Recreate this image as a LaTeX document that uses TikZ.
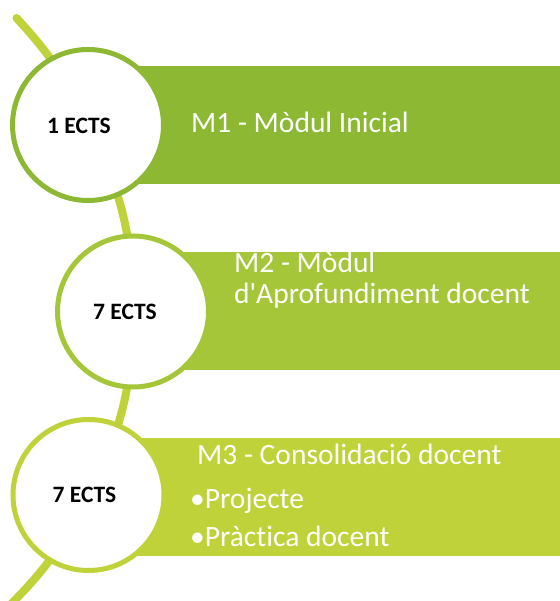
\documentclass[tikz,border=0pt]{standalone}
\usepackage{fontspec}
\setmainfont{Carlito}[Ligatures={TeXOff,NoCommon}]
\definecolor{gone}{RGB}{140,184,52}
\definecolor{gtwo}{RGB}{166,198,57}
\definecolor{gthree}{RGB}{192,210,58}
\begin{document}
\begin{tikzpicture}[x=1pt,y=-1pt,
  band/.style={draw=none, rectangle, anchor=west, minimum width=480, minimum height=118, inner sep=0},
  ring/.style={circle, draw=#1, fill=white, line width=5pt, minimum size=151, inner sep=0},
  ects/.style={font=\bfseries\fontsize{23.5}{26}\selectfont, text=black, inner sep=0},
  label/.style={font=\fontsize{29.5}{31}\selectfont, text=white, anchor=base west, inner sep=0, align=left},
  link/.style={draw=gthree, line width=8pt, line cap=round}]
\useasboundingbox (0,0) rectangle (559,601);
% bands
\node[band, fill=gone] (r1) at (88,125) {};
\node[band, fill=gtwo] (r2) at (133,310.5) {};
\node[band, fill=gthree] (r3) at (88.5,496.5) {};
% connector coordinates
\coordinate (top) at (16.5,18);
\coordinate (bot) at (5,610);
\coordinate (p1) at (88,125);
\coordinate (p2) at (133,311.5);
\coordinate (p3) at (88.5,495);
\path[link] (top) to[bend left=9] (p1);
\path[link] (p1) to[bend left=13.3] (p2);
\path[link] (p2) to[bend left=13.3] (p3);
\path[link] (p3) to[bend left=9.5] (bot);
% circles
\node[ring=gone] (c1) at (p1) {};
\node[ring=gtwo] (c2) at (p2) {};
\node[ring=gthree] (c3) at (p3) {};
% circle texts
\node[ects] (e1) at (79,125.5) {1 ECTS};
\node[ects] (e2) at (125,311.5) {7 ECTS};
\node[ects] (e3) at (84.5,495) {7 ECTS};
% band texts
\node[label] (t1) at (191,133) {M1 - Mòdul Inicial};
\node[label] (t2) at (234,303) {M2 - Mòdul\\d'Aprofundiment docent};
\node[label] (t3) at (197,464) {M3 - Consolidació docent};
\node[label] (t4) at (190,508) {•Projecte};
\node[label] (t5) at (190,546) {•Pràctica docent};
\end{tikzpicture}
\end{document}
